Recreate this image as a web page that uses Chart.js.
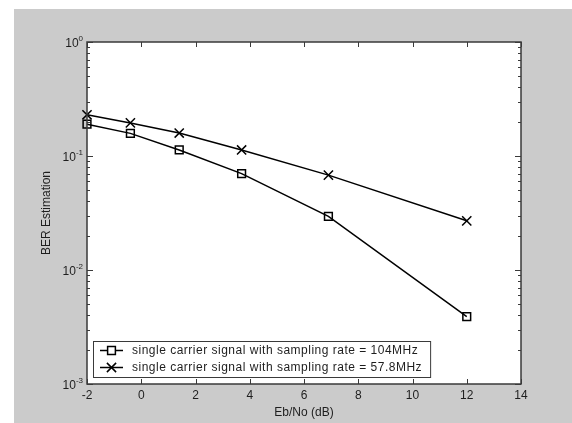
<!DOCTYPE html>
<html>
<head>
<meta charset="utf-8">
<script src="https://cdn.jsdelivr.net/npm/chart.js@4/dist/chart.umd.min.js"></script>
<style>
  html, body { margin: 0; padding: 0; background: #ffffff; }
  #wrap { position: absolute; left: 0; top: 0; width: 572px; height: 423px; }
</style>
</head>
<body>
<div id="wrap"><canvas id="c" width="572" height="423"></canvas></div>
<script>
// ---- data ----
const ebNo = [-2, -0.4, 1.4, 3.7, 6.9, 12];
const ber104 = [0.19, 0.158, 0.113, 0.070, 0.0295, 0.0039];
const ber578 = [0.23, 0.195, 0.159, 0.113, 0.068, 0.027];
const seriesLabels = [
  'single carrier signal with sampling rate = 104MHz',
  'single carrier signal with sampling rate = 57.8MHz'
];
const xTicks = [-2, 0, 2, 4, 6, 8, 10, 12, 14];
const yDecades = [0, -1, -2, -3];
const xTitle = 'Eb/No (dB)';
const yTitle = 'BER Estimation';

const FONT = 'Liberation Sans, Arial, sans-serif';
const TXT = '#1e1e1e';
const AXIS = '#3a3a3a';

function pts(xs, ys) { return xs.map((x, i) => ({ x: x, y: ys[i] })); }

const framePlugin = {
  id: 'frame',
  beforeDraw(chart) {
    const { ctx, chartArea: ca } = chart;
    ctx.save();
    ctx.fillStyle = '#cbcbcb';
    ctx.fillRect(14, 9, chart.width - 14, chart.height - 9);
    ctx.fillStyle = '#ffffff';
    ctx.fillRect(ca.left, ca.top, ca.right - ca.left, ca.bottom - ca.top);
    ctx.restore();
  },
  afterDraw(chart) {
    const { ctx, chartArea: ca } = chart;
    const xs = chart.scales.x, ys = chart.scales.y;
    ctx.save();
    // box
    ctx.strokeStyle = AXIS;
    ctx.lineWidth = 1.5;
    ctx.strokeRect(ca.left, ca.top, ca.right - ca.left, ca.bottom - ca.top);
    ctx.lineWidth = 1;
    ctx.beginPath();
    // x ticks (inward, top and bottom)
    xTicks.forEach(v => {
      const p = Math.round(xs.getPixelForValue(v)) + 0.5;
      ctx.moveTo(p, ca.bottom); ctx.lineTo(p, ca.bottom - 5);
      ctx.moveTo(p, ca.top); ctx.lineTo(p, ca.top + 5);
    });
    // y ticks (log major + minor)
    for (let e = -3; e <= 0; e++) {
      for (let m = 1; m <= 9; m++) {
        if (e === 0 && m > 1) break;
        const v = m * Math.pow(10, e);
        const p = Math.round(ys.getPixelForValue(v)) + 0.5;
        const len = m === 1 ? 6 : 3;
        ctx.moveTo(ca.left, p); ctx.lineTo(ca.left + len, p);
        ctx.moveTo(ca.right, p); ctx.lineTo(ca.right - len, p);
      }
    }
    ctx.stroke();
    // y labels 10^e
    ctx.fillStyle = TXT;
    yDecades.forEach(e => {
      const p = ys.getPixelForValue(Math.pow(10, e));
      const sup = String(e);
      ctx.font = '8px ' + FONT;
      const sw = ctx.measureText(sup).width;
      ctx.textAlign = 'left';
      ctx.textBaseline = 'alphabetic';
      const xr = ca.left - 4;
      ctx.fillText(sup, xr - sw, p - 1);
      ctx.font = '12px ' + FONT;
      ctx.textAlign = 'right';
      ctx.fillText('10', xr - sw, p + 5);
    });
    // legend
    const lx = ca.left + 6, lTop = ca.bottom - 43, lBot = ca.bottom - 7;
    ctx.font = '12px ' + FONT;
    ctx.letterSpacing = '0.5px';
    const tw = Math.max(...seriesLabels.map(s => ctx.measureText(s).width));
    const textX = lx + 39;
    const lRight = textX + tw + 8;
    ctx.fillStyle = '#ffffff';
    ctx.fillRect(lx, lTop, lRight - lx, lBot - lTop);
    ctx.strokeStyle = AXIS;
    ctx.lineWidth = 1;
    ctx.strokeRect(lx + 0.5, lTop + 0.5, lRight - lx, lBot - lTop);
    const rows = [lTop + 9.5, lTop + 26.5];
    chart.data.datasets.forEach((ds, i) => {
      const y = rows[i];
      ctx.strokeStyle = '#000';
      ctx.lineWidth = 1.5;
      ctx.beginPath();
      ctx.moveTo(lx + 7, y); ctx.lineTo(lx + 30, y);
      ctx.stroke();
      Chart.helpers.drawPoint(ctx, {
        pointStyle: ds.pointStyle, radius: ds.pointRadius, borderWidth: 1.5, rotation: 0
      }, lx + 18.5, y);
      ctx.fillStyle = TXT;
      ctx.textAlign = 'left';
      ctx.textBaseline = 'middle';
      ctx.fillText(seriesLabels[i], textX, y + 0.5);
    });
    ctx.restore();
  }
};

new Chart(document.getElementById('c'), {
  type: 'line',
  data: {
    datasets: [
      {
        label: seriesLabels[0],
        data: pts(ebNo, ber104),
        borderColor: '#000', borderWidth: 1.5,
        pointStyle: 'rect', pointRadius: 5.5, pointBorderWidth: 1.5,
        pointBorderColor: '#000', pointBackgroundColor: 'rgba(0,0,0,0)',
        fill: false, tension: 0, clip: false
      },
      {
        label: seriesLabels[1],
        data: pts(ebNo, ber578),
        borderColor: '#000', borderWidth: 1.5,
        pointStyle: 'crossRot', pointRadius: 6.5, pointBorderWidth: 1.5,
        pointBorderColor: '#000', pointBackgroundColor: 'rgba(0,0,0,0)',
        fill: false, tension: 0, clip: false
      }
    ]
  },
  options: {
    responsive: false,
    animation: false,
    devicePixelRatio: 1,
    layout: { padding: { left: 14, top: 42, right: 51, bottom: 0 } },
    plugins: { legend: { display: false }, tooltip: { enabled: false } },
    scales: {
      x: {
        type: 'linear', min: -2, max: 14,
        grid: { display: false, drawTicks: false },
        border: { display: false },
        ticks: { stepSize: 2, autoSkip: false, padding: 4, color: TXT,
                 font: { family: FONT, size: 12 } },
        title: { display: true, text: xTitle, color: TXT,
                 font: { family: FONT, size: 12 }, padding: { top: 0, bottom: 3 } },
        afterFit(s) { s.height = 39; }
      },
      y: {
        type: 'logarithmic', min: 0.001, max: 1,
        grid: { display: false, drawTicks: false },
        border: { display: false },
        ticks: { display: false },
        title: { display: true, text: yTitle, color: TXT,
                 font: { family: FONT, size: 12 }, padding: { top: 25, bottom: 0 } },
        afterFit(s) { s.width = 73; }
      }
    }
  },
  plugins: [framePlugin]
});
</script>
</body>
</html>
